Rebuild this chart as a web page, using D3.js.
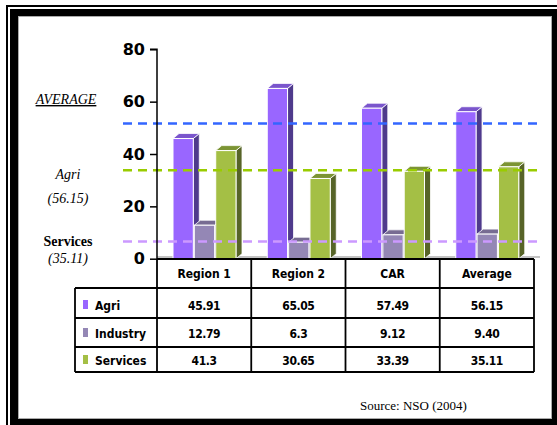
<!DOCTYPE html>
<html lang="en">

<head>
    <meta charset="UTF-8">
    <title>Sector shares</title>
    <script src="https://d3js.org/d3.v7.min.js"></script>
    <style>
        body { margin: 0; background: #fff; }
        .tbl { font-family: "DejaVu Sans Condensed", "DejaVu Sans", sans-serif; font-stretch: condensed; font-weight: bold; font-size: 12px; }
        .serif { font-family: "Liberation Serif", "Times New Roman", serif; }
    </style>
</head>

<body>
    <script>
        var width = 557, height = 425;

        // data
        var categories = ['Region 1', 'Region 2', 'CAR', 'Average'];
        var series = ['Agri', 'Industry', 'Services'];
        var agri = [45.91, 65.05, 57.49, 56.15];
        var industry = [12.79, 6.3, 9.12, 9.40];
        var services = [41.3, 30.65, 33.39, 35.11];
        // labels as printed in the table
        var agriText = ['45.91', '65.05', '57.49', '56.15'];
        var industryText = ['12.79', '6.3', '9.12', '9.40'];
        var servicesText = ['41.3', '30.65', '33.39', '35.11'];
        var yTicks = [0, 20, 40, 60, 80];
        // dashed guide lines (value where they sit on the axis)
        var guideValues = [51.7, 33.8, 6.6];
        var guideColors = ['#3366ff', '#99cc00', '#cc99ff'];

        var values = [agri, industry, services];
        var texts = [agriText, industryText, servicesText];
        // front, side, top colours for each series
        var colors = [
            ['#9966ff', '#4f3a8c', '#7a55cc'],
            ['#9487b5', '#61587a', '#776c92'],
            ['#a4bf45', '#576428', '#7c9434']
        ];

        var svg = d3.select('body').append('svg').attr('width', width).attr('height', height);

        // frame
        svg.append('rect').attr('x', 7).attr('y', 6).attr('width', 570).attr('height', 440)
            .attr('fill', 'none').attr('stroke', '#000').attr('stroke-width', 2);
        svg.append('rect').attr('x', 10).attr('y', 9).attr('width', 570).attr('height', 440).attr('fill', '#000');
        svg.append('rect').attr('x', 18.5).attr('y', 16.5).attr('width', 533).attr('height', 402)
            .attr('fill', '#fff').attr('stroke', '#aaa').attr('stroke-width', 1);

        var y = d3.scaleLinear().domain([0, 80]).range([258.7, 49.3]);
        var x0 = d3.scaleBand().domain(categories).range([157, 534]);
        var x1 = d3.scaleBand().domain(series).range([16, 79]).paddingInner(0.05);
        var dx = 6, dy = 5;

        // floor edge
        svg.append('line').attr('x1', 157).attr('x2', 540).attr('y1', 257).attr('y2', 257)
            .attr('stroke', '#b0b0b0').attr('stroke-width', 1.5);

        // 3d bars
        series.forEach(function (s, si) {
            var g = svg.append('g');
            categories.forEach(function (c, ci) {
                var v = values[si][ci];
                var bx = x0(c) + x1(s), bw = x1.bandwidth();
                var top = y(v), base = y(0);
                g.append('polygon')
                    .attr('points', [[bx + bw, top], [bx + bw + dx, top - dy], [bx + bw + dx, base - dy], [bx + bw, base]].join(' '))
                    .attr('fill', colors[si][1]).attr('stroke', '#fff').attr('stroke-width', 0.8);
                g.append('polygon')
                    .attr('points', [[bx, top], [bx + dx, top - dy], [bx + bw + dx, top - dy], [bx + bw, top]].join(' '))
                    .attr('fill', colors[si][2]).attr('stroke', '#fff').attr('stroke-width', 0.8);
                g.append('rect').attr('x', bx).attr('y', top).attr('width', bw).attr('height', base - top)
                    .attr('fill', colors[si][0]).attr('stroke', '#fff').attr('stroke-width', 1);
            });
        });

        // dashed guides
        svg.selectAll('.guide').data(guideValues).join('line')
            .attr('class', 'guide')
            .attr('x1', 123).attr('x2', 537)
            .attr('y1', function (d) { return y(d); })
            .attr('y2', function (d) { return y(d); })
            .attr('stroke', function (d, i) { return guideColors[i]; })
            .attr('stroke-width', 2.5)
            .attr('stroke-dasharray', '9,6');

        // y axis
        var yAxis = svg.append('g').attr('transform', 'translate(157,0)')
            .call(d3.axisLeft(y).tickValues(yTicks).tickSize(7).tickPadding(5));
        yAxis.select('.domain').attr('stroke', '#000').attr('stroke-width', 1.5).attr('d', 'M-7,49.3H0V259');
        yAxis.selectAll('.tick line').attr('stroke', '#000').attr('stroke-width', 1.5);
        yAxis.selectAll('.tick text').attr('font-family', '"DejaVu Sans", sans-serif')
            .attr('font-weight', 'bold').attr('font-size', 16).attr('fill', '#000');

        // data table
        var rowY = [259, 288, 318, 347, 372];
        var tbl = svg.append('g').attr('class', 'tbl');
        var lineW = 1.8;
        // horizontal lines
        tbl.append('line').attr('x1', 157).attr('x2', 534).attr('y1', rowY[0]).attr('y2', rowY[0]);
        for (var r = 1; r < rowY.length; r++) {
            tbl.append('line').attr('x1', 75).attr('x2', 534).attr('y1', rowY[r]).attr('y2', rowY[r]);
        }
        // vertical lines
        tbl.append('line').attr('x1', 75).attr('x2', 75).attr('y1', rowY[1]).attr('y2', rowY[4]);
        categories.forEach(function (c) {
            tbl.append('line').attr('x1', x0(c)).attr('x2', x0(c)).attr('y1', rowY[0]).attr('y2', rowY[4]);
        });
        tbl.append('line').attr('x1', 534).attr('x2', 534).attr('y1', rowY[0]).attr('y2', rowY[4]);
        tbl.selectAll('line').attr('stroke', '#000').attr('stroke-width', lineW);

        // header
        tbl.selectAll('.hdr').data(categories).join('text')
            .attr('class', 'hdr')
            .attr('x', function (d) { return x0(d) + x0.bandwidth() / 2; })
            .attr('y', 278)
            .attr('text-anchor', 'middle')
            .text(function (d) { return d; });

        var textBase = [310, 338, 365];
        series.forEach(function (s, si) {
            tbl.append('rect').attr('x', 83).attr('y', textBase[si] - 10).attr('width', 5).attr('height', 9)
                .attr('fill', colors[si][0]);
            tbl.append('text').attr('x', 95).attr('y', textBase[si]).text(s);
            categories.forEach(function (c, ci) {
                tbl.append('text')
                    .attr('x', x0(c) + x0.bandwidth() / 2)
                    .attr('y', textBase[si])
                    .attr('text-anchor', 'middle')
                    .attr('letter-spacing', -0.4)
                    .text(texts[si][ci]);
            });
        });

        // left annotations
        var notes = svg.append('g').attr('class', 'serif').attr('font-size', 14).attr('text-anchor', 'middle');
        notes.append('text').attr('x', 66).attr('y', 104).attr('font-style', 'italic')
            .attr('text-decoration', 'underline').text('AVERAGE');
        notes.append('text').attr('x', 68).attr('y', 179).attr('font-style', 'italic').text('Agri');
        notes.append('text').attr('x', 68).attr('y', 203).attr('font-style', 'italic').text('(56.15)');
        notes.append('text').attr('x', 68).attr('y', 246).attr('font-weight', 'bold').text('Services');
        notes.append('text').attr('x', 68).attr('y', 263).attr('font-style', 'italic').text('(35.11)');

        // source
        svg.append('text').attr('class', 'serif').attr('x', 360).attr('y', 410).attr('font-size', 13)
            .text('Source: NSO (2004)');
    </script>
</body>

</html>
